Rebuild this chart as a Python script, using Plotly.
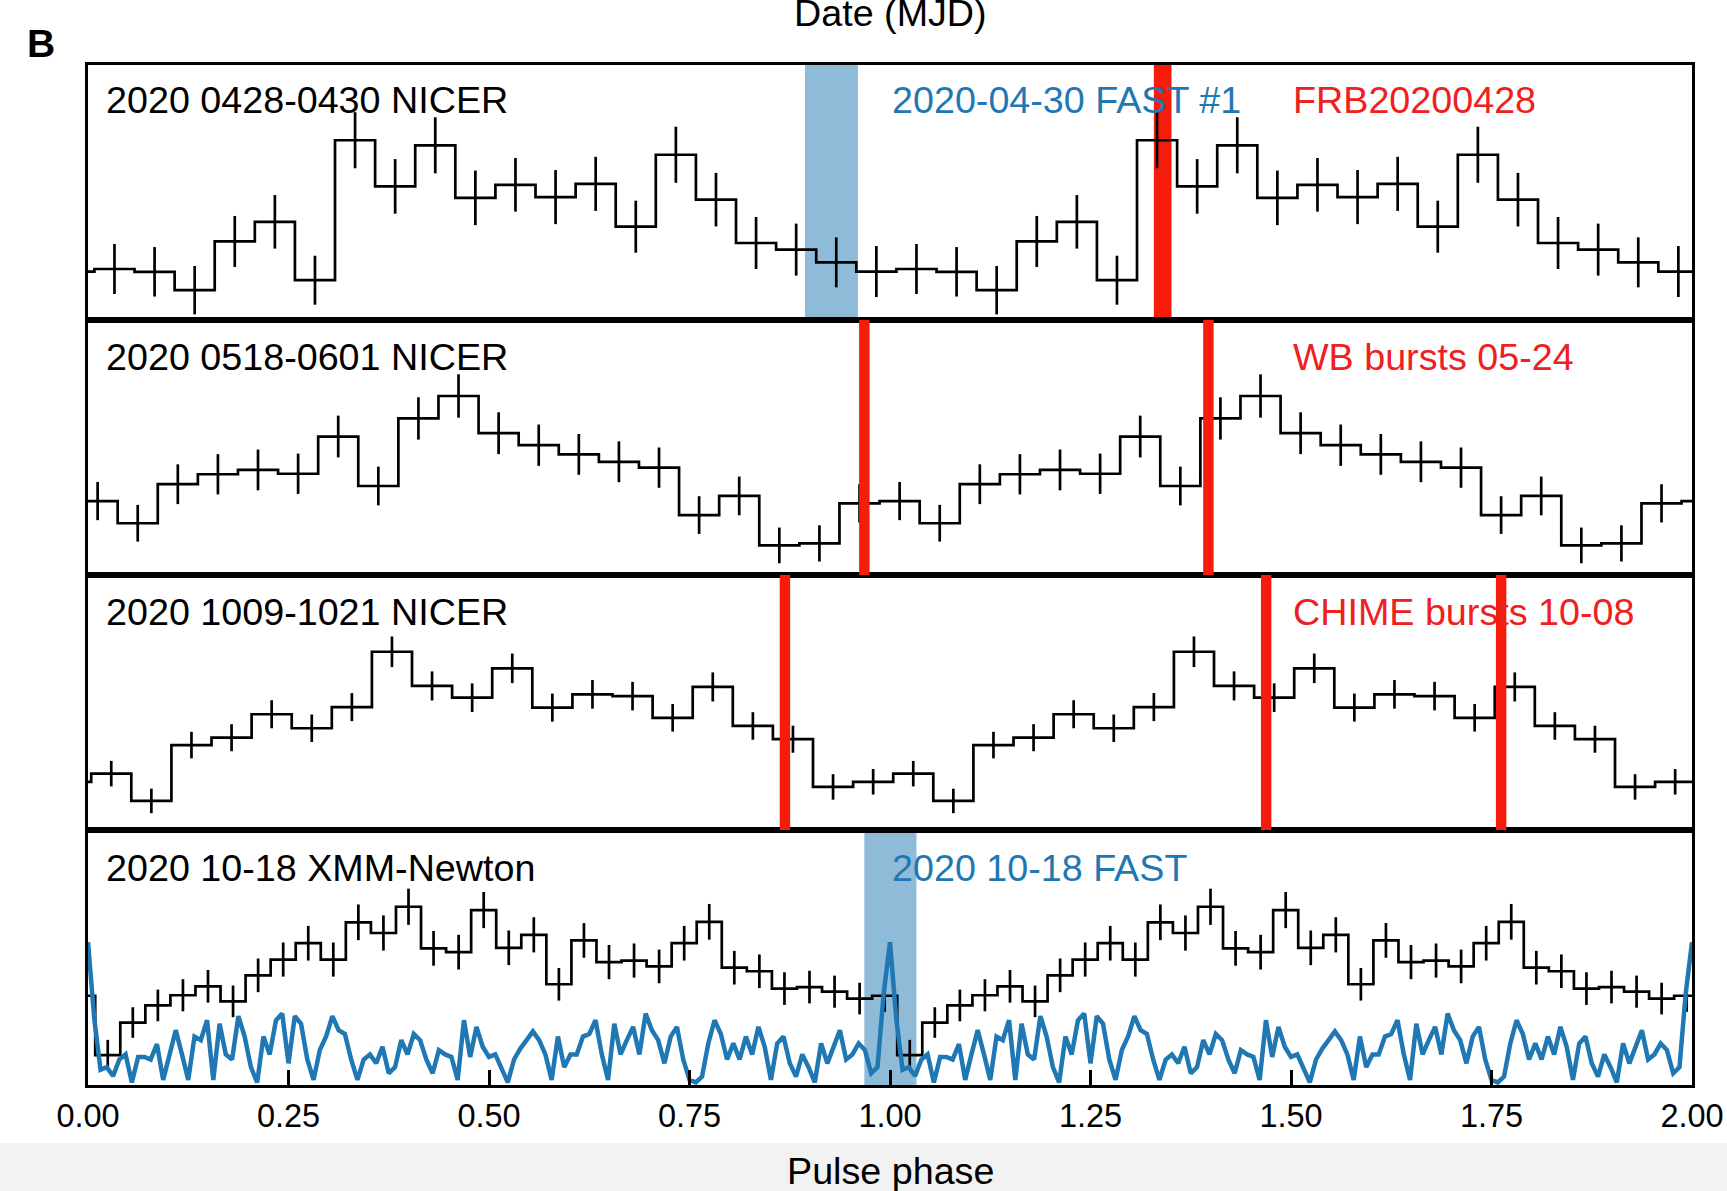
import plotly.graph_objects as go
from plotly.subplots import make_subplots

# ---------------- data ----------------
phase_ticks = [0.0, 0.25, 0.5, 0.75, 1.0, 1.25, 1.5, 1.75, 2.0]
phase_tick_labels = ["0.00", "0.25", "0.50", "0.75", "1.00", "1.25", "1.50", "1.75", "2.00"]

# Panel 1: 2020 0428-0430 NICER (20 bins / cycle, normalised)
nicer_0428 = [0.200, 0.189, 0.117, 0.308, 0.385, 0.156, 0.705, 0.524, 0.685, 0.479,
              0.530, 0.482, 0.534, 0.366, 0.648, 0.472, 0.302, 0.276, 0.226, 0.190]
nicer_0428_err = [0.098, 0.097, 0.095, 0.100, 0.105, 0.096, 0.110, 0.107, 0.110, 0.107,
                  0.105, 0.106, 0.106, 0.102, 0.110, 0.105, 0.102, 0.102, 0.098, 0.100]
nicer_0428_phase0 = 0.008

# Panel 2: 2020 0518-0601 NICER
nicer_0518 = [0.290, 0.203, 0.356, 0.395, 0.412, 0.397, 0.543, 0.349, 0.614, 0.702,
              0.556, 0.509, 0.473, 0.444, 0.421, 0.235, 0.310, 0.116, 0.124, 0.281]
nicer_0518_err = [0.075, 0.072, 0.078, 0.079, 0.080, 0.079, 0.082, 0.076, 0.083, 0.085,
                  0.082, 0.081, 0.080, 0.080, 0.079, 0.074, 0.076, 0.070, 0.071, 0.075]
nicer_0518_phase0 = -0.013

# Panel 3: 2020 1009-1021 NICER
nicer_1009 = [0.221, 0.114, 0.333, 0.362, 0.454, 0.399, 0.482, 0.699, 0.565, 0.519,
              0.634, 0.480, 0.532, 0.525, 0.440, 0.561, 0.408, 0.356, 0.169, 0.189]
nicer_1009_err = [0.050, 0.048, 0.052, 0.053, 0.055, 0.054, 0.055, 0.060, 0.057, 0.056,
                  0.058, 0.055, 0.056, 0.056, 0.054, 0.057, 0.054, 0.053, 0.050, 0.050]
nicer_1009_phase0 = 0.004

# Panel 4: 2020 10-18 XMM-Newton (32 bins / cycle)
xmm_1018 = [0.117, 0.245, 0.312, 0.352, 0.387, 0.328, 0.430, 0.492, 0.556, 0.492,
            0.638, 0.596, 0.699, 0.536, 0.521, 0.686, 0.538, 0.589, 0.395, 0.567,
            0.482, 0.488, 0.465, 0.556, 0.640, 0.460, 0.446, 0.378, 0.384, 0.366,
            0.339, 0.350]
xmm_1018_err = [0.060, 0.060, 0.062, 0.063, 0.064, 0.062, 0.066, 0.067, 0.068, 0.067,
                0.070, 0.069, 0.071, 0.068, 0.068, 0.071, 0.068, 0.069, 0.064, 0.068,
                0.067, 0.067, 0.066, 0.068, 0.070, 0.066, 0.066, 0.064, 0.064, 0.063,
                0.062, 0.063]
xmm_1018_phase0 = 0.009

# FAST radio profile 2020-10-18 (128 bins / cycle)
fast_1018 = [0.56, 0.26, 0.06, 0.07, 0.035, 0.10, 0.12, 0.01, 0.11, 0.11,
             0.10, 0.16, 0.02, 0.12, 0.215, 0.12, 0.02, 0.19, 0.176, 0.254,
             0.02, 0.24, 0.12, 0.10, 0.27, 0.19, 0.07, 0.01, 0.19, 0.12,
             0.254, 0.28, 0.085, 0.27, 0.24, 0.10, 0.02, 0.137, 0.19, 0.27,
             0.215, 0.20, 0.10, 0.02, 0.10, 0.12, 0.085, 0.15, 0.046, 0.07,
             0.176, 0.12, 0.20, 0.176, 0.10, 0.046, 0.137, 0.12, 0.11, 0.02,
             0.254, 0.11, 0.228, 0.15, 0.11,
             0.12, 0.06, 0.01, 0.10, 0.143, 0.176, 0.21, 0.176, 0.12, 0.02,
             0.19, 0.07, 0.12, 0.12, 0.19, 0.20, 0.254, 0.12, 0.02, 0.24,
             0.12, 0.176, 0.228, 0.12, 0.28, 0.215, 0.176, 0.085, 0.19, 0.228,
             0.10, 0.02, 0.01, 0.033, 0.163, 0.254, 0.20, 0.10, 0.163, 0.10,
             0.19, 0.12, 0.228, 0.15, 0.02, 0.163, 0.19, 0.085, 0.033, 0.12,
             0.07, 0.01, 0.163, 0.085, 0.15, 0.215, 0.10, 0.12, 0.163, 0.137,
             0.046, 0.07, 0.36]

# Radio windows (blue bands) and burst phases (red)
fast_0430_window = [0.894, 0.960]
fast_1018_window = [0.968, 1.033]
frb_20200428_window = [1.329, 1.351]
wb_0524_phases = [0.968, 1.397]
chime_1008_phases = [0.869, 1.469, 1.762]
burst_width = 0.013

panel_labels = ["2020 0428-0430 NICER", "2020 0518-0601 NICER",
                "2020 1009-1021 NICER", "2020 10-18 XMM-Newton"]

# ---------------- styling ----------------
BLACK = "black"
BLUE = "rgb(31,119,180)"
BAND = "rgba(31,119,180,0.5)"
RED = "rgb(245,28,12)"
RED_TXT = "rgb(238,32,32)"
FONT = "Liberation Sans, Arial, sans-serif"
FS = 37.7

fig = make_subplots(rows=4, cols=1, shared_xaxes=True, vertical_spacing=0)


def step_xy(vals, off):
    n = len(vals)
    xs, ys = [], []
    for c in (-1, 0, 1, 2):
        for k, v in enumerate(vals):
            xs.append(c + k / n + off)
            ys.append(v)
    xs.append(3 + off)
    ys.append(vals[-1])
    return xs, ys


def centers(vals, errs, off):
    n = len(vals)
    cx, cy, ce = [], [], []
    for c in (-1, 0, 1, 2):
        for k, v in enumerate(vals):
            x = c + (k + 0.5) / n + off
            if 0 <= x <= 2:
                cx.append(x)
                cy.append(v)
                ce.append(errs[k])
    return cx, cy, ce


profiles = [(nicer_0428, nicer_0428_err, nicer_0428_phase0),
            (nicer_0518, nicer_0518_err, nicer_0518_phase0),
            (nicer_1009, nicer_1009_err, nicer_1009_phase0),
            (xmm_1018, xmm_1018_err, xmm_1018_phase0)]

for r, (vals, errs, off) in enumerate(profiles, start=1):
    sx, sy = step_xy(vals, off)
    fig.add_trace(go.Scatter(x=sx, y=sy, mode="lines", line=dict(color=BLACK, width=2.7, shape="hv"),
                             hoverinfo="skip"), row=r, col=1)
    cx, cy, ce = centers(vals, errs, off)
    fig.add_trace(go.Scatter(x=cx, y=cy, mode="markers", marker=dict(size=1, color=BLACK),
                             error_y=dict(type="data", array=ce, visible=True, color=BLACK,
                                          thickness=2.7, width=0),
                             hoverinfo="skip"), row=r, col=1)

# FAST profile over two cycles
nf = len(fast_1018)
fx = [i / nf for i in range(2 * nf + 1)]
fy = fast_1018 + fast_1018 + [fast_1018[0]]
fig.add_trace(go.Scatter(x=fx, y=fy, mode="lines", line=dict(color=BLUE, width=4.5),
                         hoverinfo="skip"), row=4, col=1)

# bands and bursts
fig.add_vrect(x0=fast_0430_window[0], x1=fast_0430_window[1], fillcolor=BAND, line_width=0,
              layer="below", row=1, col=1)
fig.add_vrect(x0=fast_1018_window[0], x1=fast_1018_window[1], fillcolor=BAND, line_width=0,
              layer="below", row=4, col=1)
fig.add_vrect(x0=frb_20200428_window[0], x1=frb_20200428_window[1], fillcolor=RED, line_width=0,
              layer="below", row=1, col=1)
for p in wb_0524_phases:
    fig.add_vrect(x0=p - burst_width / 2, x1=p + burst_width / 2, fillcolor=RED, line_width=0,
                  layer="above", row=2, col=1)
for p in chime_1008_phases:
    fig.add_vrect(x0=p - burst_width / 2, x1=p + burst_width / 2, fillcolor=RED, line_width=0,
                  layer="above", row=3, col=1)

# axes
for r in range(1, 5):
    fig.update_yaxes(range=[0, 1], showticklabels=False, ticks="", showgrid=False, zeroline=False,
                     showline=True, linecolor=BLACK, linewidth=3, mirror=True, automargin=False,
                     row=r, col=1)
    fig.update_xaxes(range=[0, 2], showgrid=False, zeroline=False, showline=True, linecolor=BLACK,
                     linewidth=3, mirror=True, ticks="", automargin=False, row=r, col=1)
fig.update_xaxes(ticks="inside", ticklen=15, tickwidth=2.5, tickcolor=BLACK,
                 tickvals=phase_ticks, ticktext=phase_tick_labels, showticklabels=True,
                 tickfont=dict(size=32.5, color=BLACK, family=FONT), ticklabelstandoff=0,
                 ticklabeloverflow="allow", row=4, col=1)

# panel texts
yrefs = ["y domain", "y2 domain", "y3 domain", "y4 domain"]
xrefs = ["x", "x2", "x3", "x4"]
label_y = [0.862, 0.855, 0.855, 0.852]
for i in range(4):
    fig.add_annotation(x=0.02, y=label_y[i], xref=xrefs[i], yref=yrefs[i], text=panel_labels[i],
                       showarrow=False, xanchor="left", yanchor="middle",
                       font=dict(size=FS, color=BLACK, family=FONT))
fig.add_annotation(x=1.0, y=label_y[0], xref="x", yref="y domain", text="2020-04-30 FAST #1",
                   showarrow=False, xanchor="left", yanchor="middle", font=dict(size=FS, color=BLUE, family=FONT))
fig.add_annotation(x=1.5, y=label_y[0], xref="x", yref="y domain", text="FRB20200428",
                   showarrow=False, xanchor="left", yanchor="middle", font=dict(size=FS, color=RED_TXT, family=FONT))
fig.add_annotation(x=1.5, y=label_y[1], xref="x2", yref="y2 domain", text="WB bursts 05-24",
                   showarrow=False, xanchor="left", yanchor="middle", font=dict(size=FS, color=RED_TXT, family=FONT))
fig.add_annotation(x=1.5, y=label_y[2], xref="x3", yref="y3 domain", text="CHIME bursts 10-08",
                   showarrow=False, xanchor="left", yanchor="middle", font=dict(size=FS, color=RED_TXT, family=FONT))
fig.add_annotation(x=1.0, y=label_y[3], xref="x4", yref="y4 domain", text="2020 10-18 FAST",
                   showarrow=False, xanchor="left", yanchor="middle", font=dict(size=FS, color=BLUE, family=FONT))

# outer texts
fig.add_annotation(x=0.5, y=-0.0845, xref="paper", yref="paper", text="Pulse phase", showarrow=False,
                   xanchor="center", yanchor="middle", font=dict(size=FS, color=BLACK, family=FONT))
fig.add_annotation(x=0.5, y=1.051, xref="paper", yref="paper", text="Date (MJD)", showarrow=False,
                   xanchor="center", yanchor="middle", font=dict(size=FS, color=BLACK, family=FONT))
fig.add_annotation(x=-0.029, y=1.0206, xref="paper", yref="paper", text="<b>B</b>", showarrow=False,
                   xanchor="center", yanchor="middle", font=dict(size=39, color=BLACK, family=FONT))

# light grey strip at the bottom of the picture
fig.add_shape(type="rect", xref="paper", yref="paper", x0=-0.06, x1=1.03, y0=-0.0569, y1=-0.11,
              fillcolor="#f2f2f2", line_width=0, layer="below")

fig.update_layout(width=1727, height=1191, margin=dict(l=88, r=35, t=65, b=106),
                  plot_bgcolor="white", paper_bgcolor="white", showlegend=False,
                  font=dict(family=FONT, color=BLACK))

fig.write_html("out.html")
